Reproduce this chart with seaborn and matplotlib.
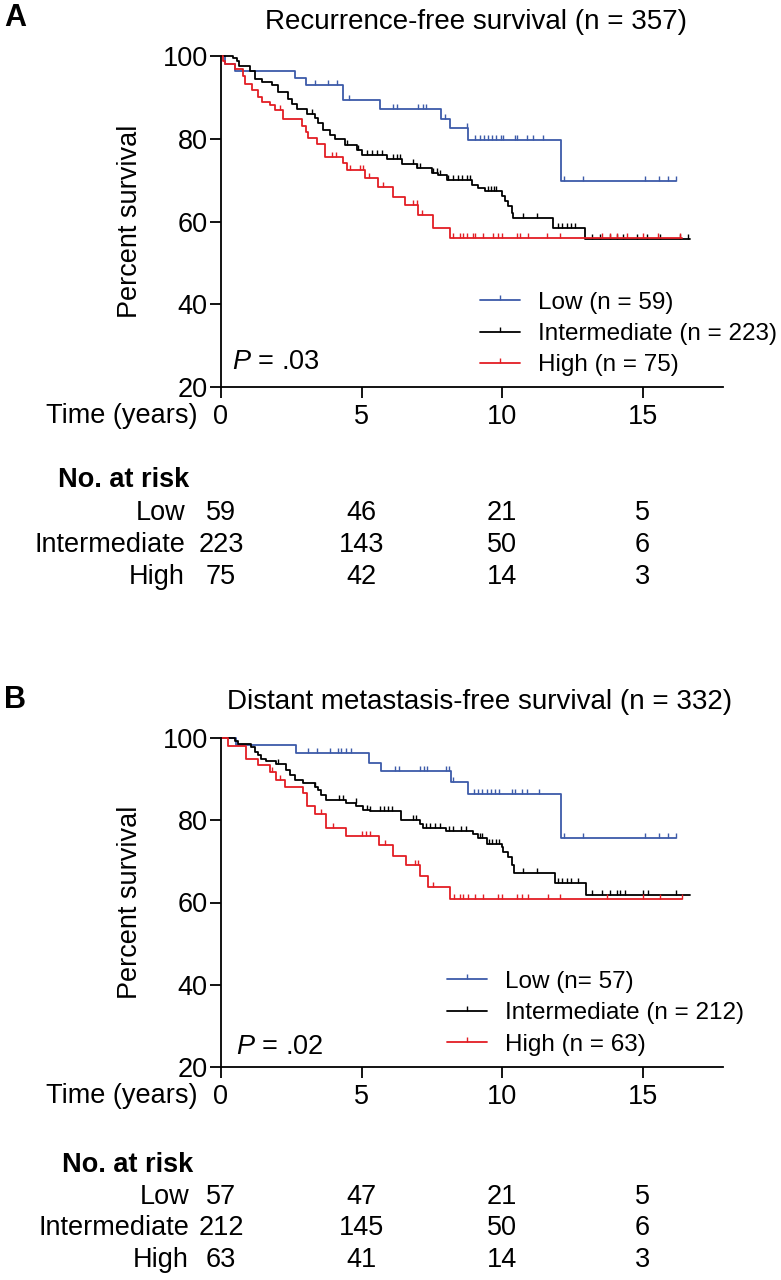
import numpy as np
import matplotlib
matplotlib.use("Agg")
import matplotlib.pyplot as plt
import matplotlib.transforms as mtrans
from matplotlib.lines import Line2D
import seaborn as sns

# ---- data ----
groups = ["Low", "Intermediate", "High"]
colors = ["#3d5ba9", "#000000", "#e31e24"]
risk_times = [0, 5, 10, 15]

# panel A: recurrence-free survival
a_low_t = [0, 0.14, 0.5, 2.63, 3.02, 4.35, 5.66, 7.82, 8.15, 8.80, 12.1]
a_low_s = [100, 98.3, 96.6, 94.9, 93.2, 89.4, 87.2, 84.9, 82.6, 79.9, 69.9]
a_low_end = 16.2
a_low_cens = [3.35, 3.82, 4.12, 4.57, 6.13, 6.28, 7.0, 7.2, 7.3, 7.97, 8.74, 9.04, 9.2, 9.35, 9.5,
              9.65, 9.8, 9.95, 10.05, 10.46, 10.55, 10.88, 11.1, 11.47, 12.2, 12.9, 15.1, 15.6, 15.9, 16.2]

a_int_t = [0, 0.44, 0.56, 0.65, 1.03, 1.21, 1.45, 1.80, 2.04, 2.40, 2.51, 2.69, 3.05, 3.35, 3.46, 3.64,
           3.88, 4.06, 4.41, 4.83, 5.01, 5.90, 6.43, 6.96, 7.50, 7.73, 8.03, 8.95, 9.15, 9.40, 9.99,
           10.11, 10.23, 10.34, 10.40, 11.83, 12.95]
a_int_s = [100, 99.6, 98.8, 97.8, 96.6, 94.6, 93.8, 93.0, 91.4, 89.8, 88.6, 87.4, 86.2, 85.0, 83.8, 82.2,
           81.0, 80.0, 78.6, 77.3, 76.1, 75.3, 74.0, 72.9, 71.9, 71.3, 70.1, 69.0, 68.2, 67.4, 66.2,
           65.0, 63.8, 62.2, 60.8, 58.6, 55.8]
a_int_end = 16.7
a_int_cens = [3.23, 4.47, 4.89, 5.18, 5.36, 5.54, 5.72, 6.13, 6.25, 6.37, 6.84, 6.96, 7.08, 7.56, 7.68,
              7.80, 8.09, 8.27, 8.45, 8.56, 8.74, 8.85, 9.5, 9.6, 9.7, 9.8, 10.76, 11.23, 12.0, 12.15,
              12.3, 12.45, 12.6, 13.19, 13.49, 13.84, 14.08, 14.32, 14.79, 15.15, 15.62, 16.33, 16.63]

a_high_t = [0, 0.08, 0.14, 0.5, 0.79, 0.85, 1.09, 1.33, 1.45, 1.74, 1.92, 2.22, 2.87, 3.02, 3.11, 3.40,
            3.70, 4.35, 4.47, 5.12, 5.60, 6.13, 6.55, 7.02, 7.56, 8.15]
a_high_s = [100, 99.0, 98.1, 97.0, 95.4, 93.4, 91.8, 90.2, 89.0, 88.2, 87.0, 84.8, 83.1, 81.8, 80.2, 78.8,
            75.7, 74.1, 72.5, 70.5, 68.5, 66.1, 64.1, 61.7, 58.5, 56.1]
a_high_end = 16.4
a_high_cens = [2.1, 3.95, 4.1, 4.6, 4.95, 5.05, 5.25, 5.78, 6.85, 6.96, 7.14, 8.27, 8.5, 8.62, 8.74, 8.98,
               9.04, 9.34, 9.69, 9.87, 9.99, 10.52, 10.64, 10.94, 11.59, 12.06, 13.55, 13.84, 14.08,
               14.44, 15.03, 15.56, 16.33]

a_risk = [[59, 46, 21, 5], [223, 143, 50, 6], [75, 42, 14, 3]]
a_ns = [59, 223, 75]

# panel B: distant metastasis-free survival
b_low_t = [0, 0.55, 2.68, 5.27, 5.71, 8.2, 8.8, 12.1]
b_low_s = [100, 98.2, 96.3, 94.0, 91.9, 89.3, 86.3, 75.8]
b_low_end = 16.2
b_low_cens = [3.1, 3.4, 3.87, 4.16, 4.28, 4.46, 4.64, 6.18, 6.33, 7.07, 7.21, 7.34, 8.02, 8.11, 8.26,
              9.0, 9.15, 9.3, 9.45, 9.6, 9.75, 9.9, 10.35, 10.45, 10.7, 10.9, 11.3, 12.2, 12.9, 15.1,
              15.6, 15.9, 16.2]

b_int_t = [0, 0.49, 0.6, 1.08, 1.2, 1.32, 1.44, 1.61, 1.97, 2.33, 2.44, 2.62, 2.92, 3.33, 3.45, 3.57,
           3.75, 4.46, 4.82, 5.05, 5.29, 6.42, 7.07, 7.19, 8.02, 8.97, 9.16, 9.46, 9.99, 10.05, 10.23,
           10.35, 10.41, 11.89, 12.99]
b_int_s = [100, 99.2, 98.6, 97.8, 96.6, 95.8, 95.0, 94.4, 93.6, 92.2, 91.0, 89.8, 89.0, 88.2, 87.4, 86.2,
           85.0, 84.2, 83.4, 82.6, 82.2, 80.1, 79.0, 78.2, 77.4, 76.6, 75.7, 74.3, 73.5, 72.3, 71.1,
           69.1, 67.2, 64.8, 61.9]
b_int_end = 16.7
b_int_cens = [2.03, 3.33, 4.2, 4.35, 4.8, 5.2, 5.3, 5.65, 5.8, 5.95, 6.1, 6.85, 6.95, 7.3, 7.45, 7.6,
              7.8, 8.1, 8.25, 8.55, 8.73, 9.2, 9.3, 9.55, 9.65, 9.8, 9.9, 10.76, 11.23, 12.0, 12.15,
              12.3, 12.45, 12.7, 13.19, 13.55, 13.84, 14.08, 14.2, 14.38, 15.03, 15.2, 16.2]

b_high_t = [0, 0.25, 0.9, 1.32, 1.73, 1.97, 2.27, 2.92, 3.06, 3.33, 3.72, 4.46, 5.62, 6.12, 6.6, 7.07,
            7.37, 8.14]
b_high_s = [100, 98.1, 94.8, 93.4, 91.8, 89.8, 88.2, 86.6, 83.4, 81.4, 78.0, 76.1, 74.0, 71.4, 69.0,
            66.4, 63.8, 60.9]
b_high_end = 16.4
b_high_cens = [1.8, 2.09, 3.57, 3.99, 5.0, 5.15, 5.3, 5.82, 6.9, 7.0, 7.55, 8.3, 8.5, 8.6, 8.8, 9.04,
               9.34, 9.87, 9.99, 10.52, 10.7, 10.94, 11.65, 12.06, 13.72, 15.03, 15.62, 16.4]

b_risk = [[57, 47, 21, 5], [212, 145, 50, 6], [63, 41, 14, 3]]
b_leg = ["Low (n= 57)", "Intermediate (n = 212)", "High (n = 63)"]

# ---- style ----
sns.set_style("ticks")
plt.rcParams["font.family"] = ["Liberation Sans", "DejaVu Sans"]
plt.rcParams["mathtext.fontset"] = "custom"
plt.rcParams["mathtext.it"] = "Liberation Sans:italic"
plt.rcParams["mathtext.rm"] = "Liberation Sans"
for k in ["text.color", "axes.labelcolor", "xtick.color", "ytick.color", "axes.edgecolor"]:
    plt.rcParams[k] = "black"

W, H = 781, 1280
fig = plt.figure(figsize=(W / 100, H / 100), dpi=100)


def fx(px):
    return px / W


def fy(py):
    return 1 - py / H


FS = 19.5
tick_mark = [(0, 0), (0, 1)]


def km_panel(top, bottom, curves, title, tlabel_x, leg_labels, leg_x, leg_y, ptext, p_xy,
             risk, riskrow_y, label_right, head_x, letter, letter_y, title_y):
    ax = fig.add_axes([fx(221), fy(bottom), (722.7 - 221) / W, (bottom - top) / H])
    for (t, s, end, cens), c in zip(curves, colors):
        xs = list(t) + [end]
        ys = list(s) + [s[-1]]
        sns.lineplot(x=xs, y=ys, drawstyle="steps-post", estimator=None, sort=False,
                     color=c, lw=1.3, ax=ax, clip_on=False)
        idx = np.searchsorted(t, cens, side="right") - 1
        ax.plot(cens, np.array(s)[idx], ls="none", marker=tick_mark, ms=7, mew=1,
                color=c, clip_on=False)
    ax.set_xlim(0, (722.7 - 221) / 28.1)
    ax.set_ylim(20, 100)
    ax.set_xticks(risk_times)
    ax.set_yticks([20, 40, 60, 80, 100])
    sns.despine(ax=ax)
    for sp in ["left", "bottom"]:
        ax.spines[sp].set_linewidth(1.3)
        ax.spines[sp].set_color("black")
    ax.tick_params(axis="both", length=8, width=1.3, color="black", labelcolor="black",
                   labelsize=FS, pad=1.5)
    ax.tick_params(axis="x", pad=4)
    ax.set_ylabel("Percent survival", fontsize=FS, labelpad=14)
    fig.text(fx(197), fy(bottom + 29), "Time (years)", fontsize=FS, ha="right", va="center")
    fig.text(fx(tlabel_x), fy(title_y), title, fontsize=20, ha="center", va="center")
    fig.text(fx(4), fy(letter_y), letter, fontsize=22, fontweight="bold", ha="left", va="center")
    ax.text(p_xy[0], p_xy[1], ptext, fontsize=FS, transform=fig.transFigure, ha="left", va="center")

    handles = [Line2D([0], [0], color=c, lw=1.3, marker=tick_mark, ms=7, mew=1) for c in colors]
    fig.legend(handles, leg_labels, loc="center left", bbox_to_anchor=(fx(leg_x), fy(leg_y)),
               frameon=False, fontsize=17.5, handlelength=1.65, handletextpad=0.75,
               labelspacing=0.39, borderpad=0, borderaxespad=0, numpoints=1)

    # number at risk table
    fig.text(fx(head_x), fy(riskrow_y[0]), "No. at risk", fontsize=FS, fontweight="bold",
             ha="left", va="center")
    tr = mtrans.blended_transform_factory(ax.transData, fig.transFigure)
    for g, row, yy in zip(groups, risk, riskrow_y[1:]):
        fig.text(fx(label_right), fy(yy), g, fontsize=FS, ha="right", va="center")
        for tt, n in zip(risk_times, row):
            ax.text(tt, fy(yy), str(n), fontsize=FS, ha="center", va="center", transform=tr)
    return ax


curves_a = [(a_low_t, a_low_s, a_low_end, a_low_cens),
            (a_int_t, a_int_s, a_int_end, a_int_cens),
            (a_high_t, a_high_s, a_high_end, a_high_cens)]
curves_b = [(b_low_t, b_low_s, b_low_end, b_low_cens),
            (b_int_t, b_int_s, b_int_end, b_int_cens),
            (b_high_t, b_high_s, b_high_end, b_high_cens)]

a_leg = ["%s (n = %d)" % (g, n) for g, n in zip(groups, a_ns)]

km_panel(56.5, 387, curves_a, "Recurrence-free survival (n = 357)", 476, a_leg, 480, 334,
         "$P$ = .03", (fx(232), fy(362)), a_risk, [480, 513, 545, 577], 185, 58, "A", 18, 22)
km_panel(738, 1067, curves_b, "Distant metastasis-free survival (n = 332)", 480, b_leg, 447, 1013,
         "$P$ = .02", (fx(236), fy(1047)), b_risk, [1165, 1197, 1228, 1260], 189, 62, "B", 700, 702)

fig.savefig("out.png", dpi=100)
